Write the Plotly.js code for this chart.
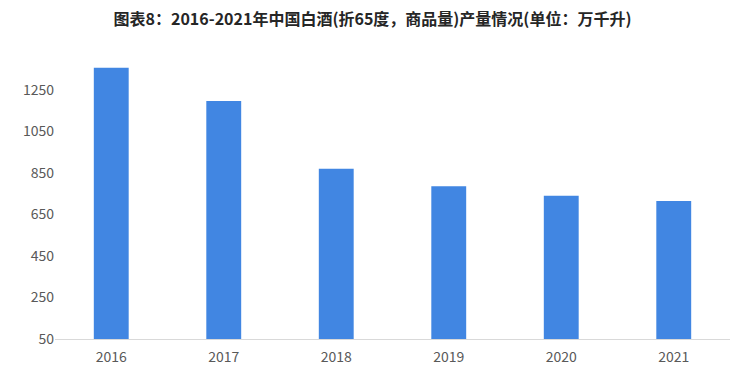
<!DOCTYPE html>
<html><head><meta charset="utf-8">
<script src="https://cdn.plot.ly/plotly-3.0.1.min.js"></script>
<style>html,body{margin:0;padding:0;background:#fff}#chart{width:745px;height:379px}</style>
</head><body><div id="chart"></div>
<script>
const years = ['2016','2017','2018','2019','2020','2021'];
const output = [1358.4, 1198.1, 871.2, 785.9, 740.7, 715.6];
const tickVals = [50, 250, 450, 650, 850, 1050, 1250];
const titleText = '图表8：2016-2021年中国白酒(折65度，商品量)产量情况(单位：万千升)';

const font = '"Noto Sans CJK SC", "Microsoft YaHei", sans-serif';
Plotly.newPlot('chart', [{
  type: 'bar', x: years, y: output,
  marker: {color: '#4186e2'}, hoverinfo: 'x+y'
}], {
  width: 745, height: 379,
  margin: {l: 55, r: 15, t: 59, b: 40},
  paper_bgcolor: '#fff', plot_bgcolor: '#fff',
  bargap: 0.69,
  showlegend: false,
  title: {text: '<b>' + titleText + '</b>', x: 0.5, xanchor: 'center', y: 0.948, yanchor: 'middle',
          font: {family: font, size: 16, color: '#262626'}},
  xaxis: {type: 'category', showgrid: false, showline: true, linecolor: '#d9d9d9', linewidth: 1,
          ticks: '', tickfont: {family: font, size: 14, color: '#595959'}, ticklabelstandoff: 5},
  yaxis: {range: [50, 1400], tickmode: 'array', tickvals: tickVals, ticktext: tickVals.map(String),
          showgrid: false, zeroline: false, showline: false, ticks: '',
          tickfont: {family: font, size: 14, color: '#595959'}}
}, {displayModeBar: false});
</script></body></html>
